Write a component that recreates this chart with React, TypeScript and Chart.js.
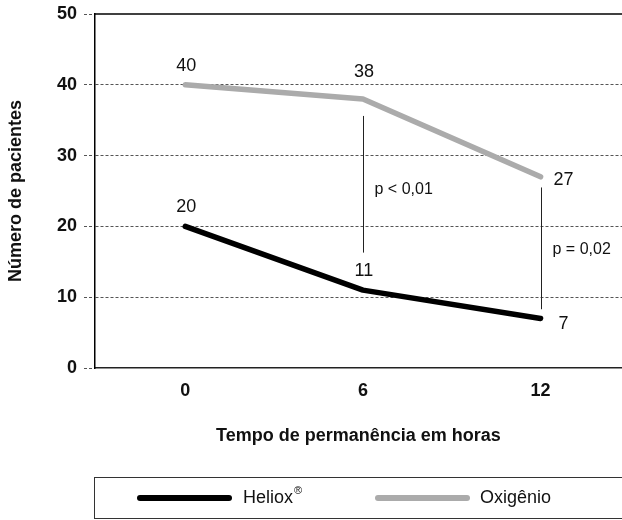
import React, { useEffect, useRef } from 'react';
import { Chart, registerables } from 'chart.js';

Chart.register(...registerables);

// ---- data ----
const hours = [0, 6, 12];
const heliox = [20, 11, 7];
const oxigenio = [40, 38, 27];
const yTicks = [0, 10, 20, 30, 40, 50];
const seriesLabels = ['Heliox', 'Oxigênio'];
const xTitle = 'Tempo de permanência em horas';
const yTitle = 'Número de pacientes';
const pAnnotations = [
  { hour: 6, from: 35.6, to: 16.3, text: 'p < 0,01', textAt: 25.2 },
  { hour: 12, from: 25.5, to: 8.3, text: 'p = 0,02', textAt: 16.7 },
];

const FONT = '"Liberation Sans", Arial, Helvetica, sans-serif';
const BLACK = '#000000';
const GRAY = '#ababab';

const overlay = {
  id: 'overlay',
  afterDatasetsDraw(chart: any) {
    const { ctx, chartArea, scales } = chart;
    const x = scales.x;
    const y = scales.y;
    ctx.save();
    // top frame line
    ctx.strokeStyle = '#000';
    ctx.lineWidth = 1.5;
    ctx.beginPath();
    ctx.moveTo(chartArea.left, chartArea.top);
    ctx.lineTo(chartArea.right, chartArea.top);
    ctx.stroke();

    // significance annotations
    pAnnotations.forEach((a) => {
      const px = Math.round(x.getPixelForValue(a.hour)) + 0.5;
      ctx.strokeStyle = '#222';
      ctx.lineWidth = 1;
      ctx.beginPath();
      ctx.moveTo(px, y.getPixelForValue(a.from));
      ctx.lineTo(px, y.getPixelForValue(a.to));
      ctx.stroke();
      ctx.font = `16px ${FONT}`;
      ctx.fillStyle = '#111';
      ctx.textAlign = 'left';
      ctx.textBaseline = 'middle';
      ctx.fillText(a.text, px + 11, y.getPixelForValue(a.textAt));
    });

    // value labels
    ctx.font = `18px ${FONT}`;
    ctx.fillStyle = '#111';
    ctx.textAlign = 'center';
    ctx.textBaseline = 'middle';
    chart.data.datasets.forEach((ds: any, di: number) => {
      const meta = chart.getDatasetMeta(di);
      meta.data.forEach((pt: any, i: number) => {
        const last = i === meta.data.length - 1;
        const v = ds.data[i].y;
        let lx = pt.x + 1;
        let ly = pt.y - 19;
        if (di === 1 && i === 1) ly = pt.y - 27;
        if (last) {
          lx = pt.x + 23;
          ly = pt.y + (di === 0 ? 6 : 3);
        }
        ctx.fillText(String(v), lx, ly);
      });
    });
    ctx.restore();
  },
  afterDraw(chart: any) {
    const { ctx } = chart;
    ctx.save();
    // legend box
    ctx.strokeStyle = '#333';
    ctx.lineWidth = 1;
    ctx.strokeRect(94.5, 477.5, 600, 41);
    const cy = 498;
    const items = [
      { color: BLACK, x0: 140, x1: 229, tx: 243, label: seriesLabels[0], sup: '®' },
      { color: GRAY, x0: 378, x1: 467, tx: 480, label: seriesLabels[1], sup: '' },
    ];
    items.forEach((it) => {
      ctx.strokeStyle = it.color;
      ctx.lineWidth = 6;
      ctx.lineCap = 'round';
      ctx.beginPath();
      ctx.moveTo(it.x0, cy);
      ctx.lineTo(it.x1, cy);
      ctx.stroke();
      ctx.fillStyle = '#111';
      ctx.font = `18px ${FONT}`;
      ctx.textAlign = 'left';
      ctx.textBaseline = 'middle';
      ctx.fillText(it.label, it.tx, cy);
      if (it.sup) {
        const w = ctx.measureText(it.label).width;
        ctx.font = `11px ${FONT}`;
        ctx.fillText(it.sup, it.tx + w + 1, cy - 7);
      }
    });
    ctx.restore();
  },
};

export default function App() {
  const ref = useRef<HTMLCanvasElement | null>(null);

  useEffect(() => {
    if (!ref.current) return;
    const tickFont = { family: FONT, size: 18, weight: 'bold' as const };
    const chart = new Chart(ref.current, {
      type: 'line',
      data: {
        datasets: [
          {
            label: seriesLabels[0],
            data: hours.map((h, i) => ({ x: h, y: heliox[i] })),
            borderColor: BLACK,
            backgroundColor: BLACK,
            borderWidth: 5.5,
            pointRadius: 0,
            borderCapStyle: 'round',
            borderJoinStyle: 'round',
            tension: 0,
          },
          {
            label: seriesLabels[1],
            data: hours.map((h, i) => ({ x: h, y: oxigenio[i] })),
            borderColor: GRAY,
            backgroundColor: GRAY,
            borderWidth: 5.5,
            pointRadius: 0,
            borderCapStyle: 'round',
            borderJoinStyle: 'round',
            tension: 0,
          },
        ],
      },
      options: {
        responsive: false,
        animation: false,
        layout: { padding: { top: 14, right: 0, bottom: 73, left: 0 } },
        plugins: { legend: { display: false }, tooltip: { enabled: false } },
        scales: {
          x: {
            type: 'linear',
            min: -3.05,
            max: 14.75,
            afterBuildTicks: (s: any) => {
              s.ticks = hours.map((v) => ({ value: v }));
            },
            afterFit: (s: any) => {
              s.height = 79;
              s.paddingLeft = 0;
              s.paddingRight = 0;
            },
            grid: { display: false, drawTicks: false },
            border: { display: true, color: '#222', width: 1.5 },
            ticks: {
              padding: 12,
              color: '#111',
              font: tickFont,
              callback: (v: any) => String(v),
            },
            title: {
              display: true,
              text: xTitle,
              color: '#111',
              font: tickFont,
              padding: { top: 0, bottom: 0 },
            },
          },
          y: {
            type: 'linear',
            min: 0,
            max: 50,
            afterBuildTicks: (s: any) => {
              s.ticks = yTicks.map((v) => ({ value: v }));
            },
            afterFit: (s: any) => {
              s.width = 95;
              s.paddingTop = 0;
              s.paddingBottom = 0;
            },
            grid: {
              color: (c: any) =>
                c.tick && (c.tick.value === 0 || c.tick.value === 50) ? 'rgba(0,0,0,0)' : '#555',
              lineWidth: 1,
              drawTicks: true,
              tickLength: 11,
              tickColor: '#555',
              tickBorderDash: [3, 2],
            },
            border: { display: true, color: '#000', width: 1.5, dash: [3, 2] },
            ticks: { padding: 7, color: '#111', font: tickFont },
            title: {
              display: true,
              text: yTitle,
              color: '#111',
              font: tickFont,
              padding: { top: 5, bottom: 0 },
            },
          },
        },
      },
      plugins: [overlay],
    } as any);
    return () => chart.destroy();
  }, []);

  return (
    <div style={{ position: 'absolute', left: 0, top: 0, width: 622, height: 520, background: '#fff' }}>
      <canvas ref={ref} width={622} height={520} style={{ display: 'block' }} />
    </div>
  );
}
